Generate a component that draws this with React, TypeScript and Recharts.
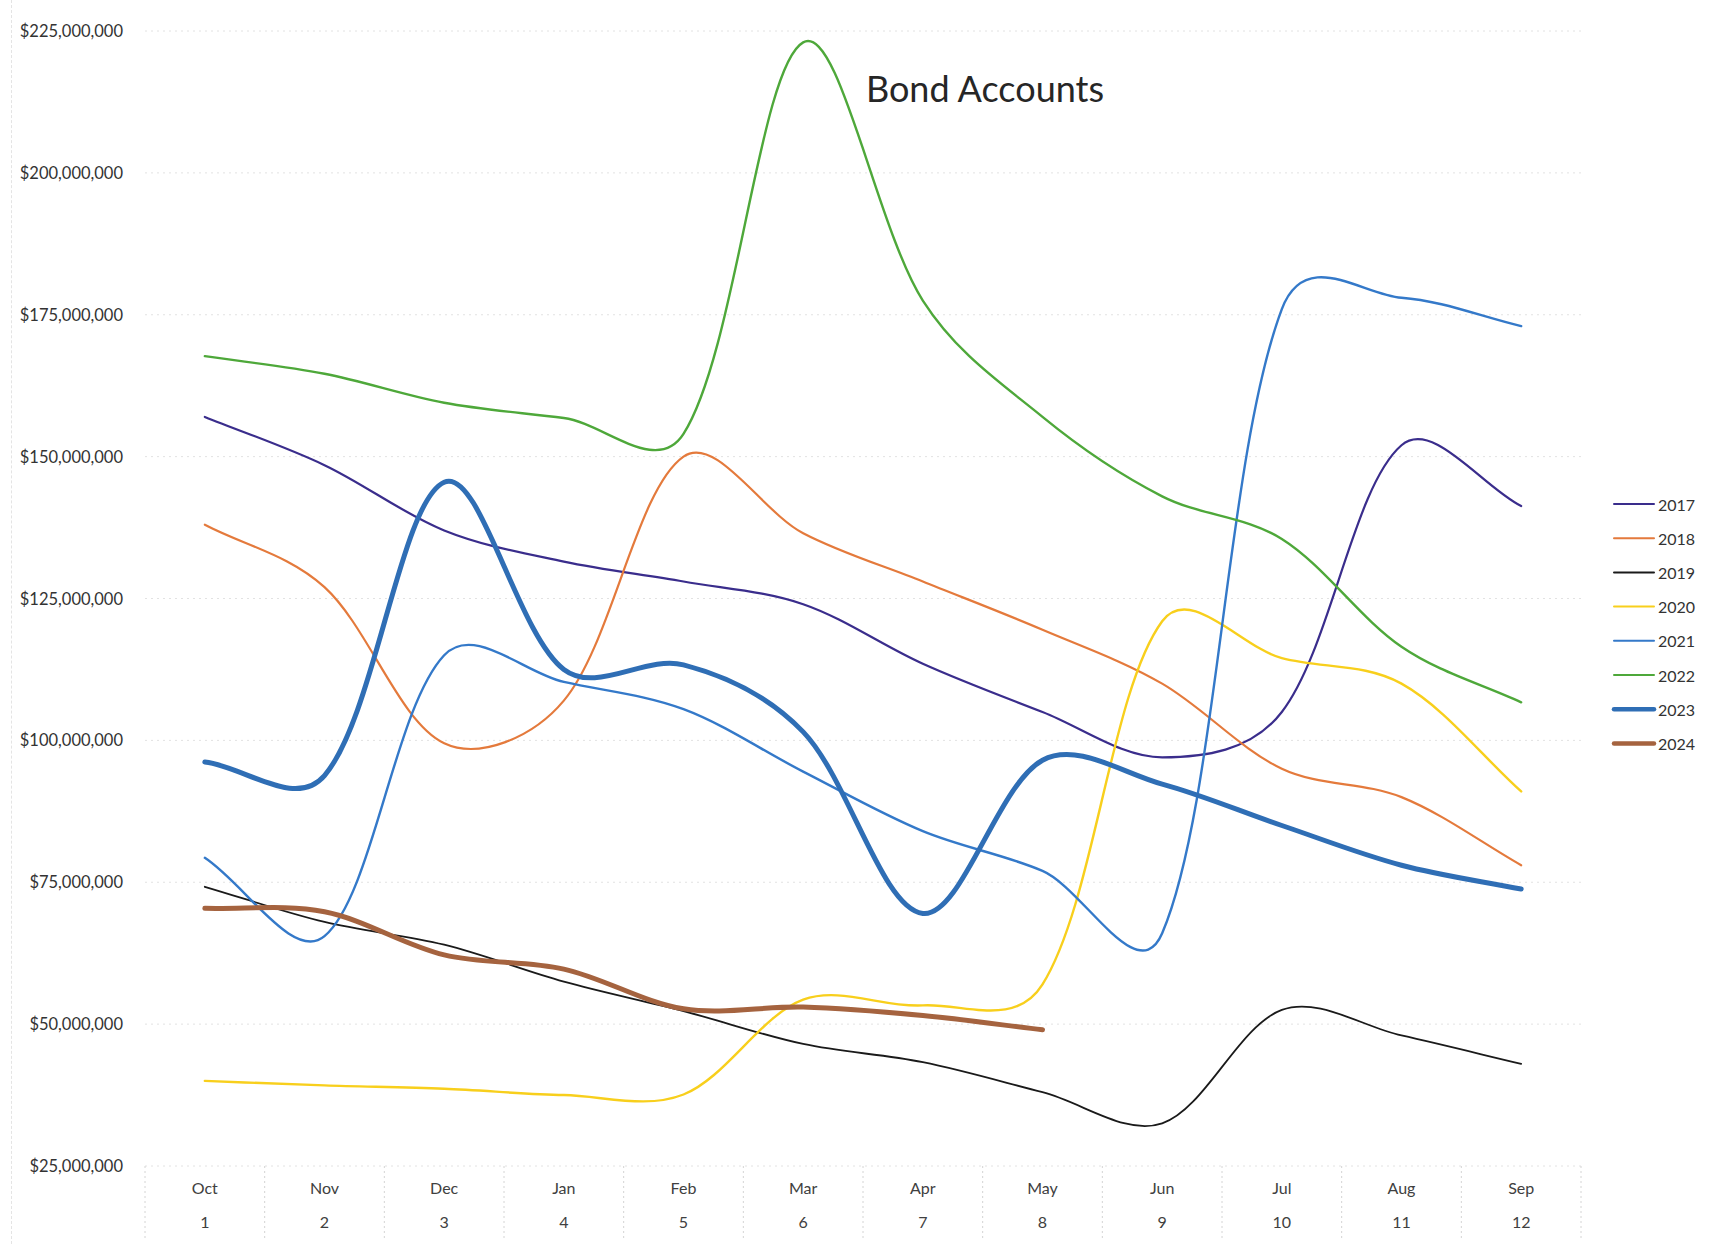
import React from 'react';
import { LineChart, Line, XAxis, YAxis, CartesianGrid, Legend } from 'recharts';

const months = ['Oct', 'Nov', 'Dec', 'Jan', 'Feb', 'Mar', 'Apr', 'May', 'Jun', 'Jul', 'Aug', 'Sep'];
const monthNumbers = ['1', '2', '3', '4', '5', '6', '7', '8', '9', '10', '11', '12'];
const years = ['2017', '2018', '2019', '2020', '2021', '2022', '2023', '2024'];

const v2017 = [157000000, 148500000, 137000000, 131500000, 128000000, 124000000, 113500000, 105000000, 97000000, 105000000, 152000000, 141300000];
const v2018 = [138000000, 127000000, 99500000, 107000000, 150000000, 136500000, 128000000, 119500000, 110000000, 95000000, 90000000, 78000000];
const v2019 = [74200000, 68000000, 64000000, 57500000, 52300000, 46500000, 43300000, 38000000, 32500000, 52500000, 48000000, 43000000];
const v2020 = [40000000, 39200000, 38600000, 37500000, 37600000, 54300000, 53300000, 57000000, 121000000, 114500000, 110000000, 91000000];
const v2021 = [79300000, 65500000, 115000000, 110300000, 105500000, 94500000, 84000000, 77000000, 66000000, 176000000, 178000000, 173000000];
const v2022 = [167700000, 164600000, 159500000, 156800000, 154000000, 223000000, 177500000, 157000000, 143000000, 135500000, 116500000, 106700000];
const v2023 = [96200000, 93800000, 145500000, 112500000, 113300000, 101500000, 69500000, 96500000, 92300000, 85000000, 78000000, 73800000];
const v2024 = [70400000, 69800000, 62200000, 59700000, 52700000, 53000000, 51500000, 49000000, null, null, null, null];

const yTicks = [25000000, 50000000, 75000000, 100000000, 125000000, 150000000, 175000000, 200000000, 225000000];

const seriesValues = [v2017, v2018, v2019, v2020, v2021, v2022, v2023, v2024];
const seriesColors = ['#3a2d8c', '#e47a3c', '#1a1a1a', '#f8cf1c', '#3479c9', '#4ea83a', '#2f6eb5', '#a5633f'];
const seriesWidths = [2.2, 2.2, 1.8, 2.4, 2.4, 2.4, 5, 5];

const data = months.map((m, i) => {
  const row: any = { month: m };
  years.forEach((y, k) => {
    row['y' + y] = seriesValues[k][i];
  });
  return row;
});

// Excel-like smoothing: cardinal bezier, tangents partly weighted by segment length
function excelSmooth(context: any) {
  let pts: number[][] = [];
  const f = 1 / 3;
  const w = 0.4;
  const weight = (near: number, far: number) => (near + far > 0 ? f * (w * 0.5 + (1 - w) * (near / (near + far))) : 0);
  return {
    areaStart() {},
    areaEnd() {},
    lineStart() {
      pts = [];
    },
    point(x: number, y: number) {
      pts.push([+x, +y]);
    },
    lineEnd() {
      const n = pts.length;
      if (n === 0) return;
      context.moveTo(pts[0][0], pts[0][1]);
      if (n === 1) {
        context.lineTo(pts[0][0], pts[0][1]);
        return;
      }
      for (let i = 0; i < n - 1; i++) {
        const first = i === 0;
        const last = i + 2 >= n;
        const p0 = pts[first ? i : i - 1];
        const p1 = pts[i];
        const p2 = pts[i + 1];
        const p3 = pts[last ? i + 1 : i + 2];
        const d01 = Math.hypot(p1[0] - p0[0], p1[1] - p0[1]);
        const d12 = Math.hypot(p2[0] - p1[0], p2[1] - p1[1]);
        const d23 = Math.hypot(p3[0] - p2[0], p3[1] - p2[1]);
        const a = first ? f : weight(d12, d01);
        const b = last ? f : weight(d12, d23);
        const c1x = p1[0] + (p2[0] - p0[0]) * a;
        const c1y = p1[1] + (p2[1] - p0[1]) * a;
        const c2x = p2[0] - (p3[0] - p1[0]) * b;
        const c2y = p2[1] - (p3[1] - p1[1]) * b;
        context.bezierCurveTo(c1x, c1y, c2x, c2y, p2[0], p2[1]);
      }
    },
  };
}

const WIDTH = 1718;
const HEIGHT = 1244;
const X_AXIS_H = 78;
const MARGIN = { top: 31, right: 137, bottom: 0, left: 0 };
const Y_AXIS_W = 145;
const BAND = (WIDTH - MARGIN.right - Y_AXIS_W) / months.length;
const FONT = 'Lato, "Open Sans", sans-serif';

const XTick = (props: any) => {
  const { x, y, payload } = props;
  const i = months.indexOf(payload.value);
  return (
    <g>
      <line x1={x - BAND / 2} x2={x - BAND / 2} y1={y} y2={y + 72} stroke="#d4d4d4" strokeDasharray="2 3" strokeWidth={1} />
      {i === months.length - 1 && (
        <line x1={x + BAND / 2} x2={x + BAND / 2} y1={y} y2={y + 72} stroke="#d4d4d4" strokeDasharray="2 3" strokeWidth={1} />
      )}
      <text x={x} y={y + 21} textAnchor="middle" dominantBaseline="central" fontFamily={FONT} fontSize={16} fill="#404040">
        {months[i]}
      </text>
      <text x={x} y={y + 55} textAnchor="middle" dominantBaseline="central" fontFamily={FONT} fontSize={16} fill="#404040">
        {monthNumbers[i]}
      </text>
    </g>
  );
};

const YTick = (props: any) => {
  const { x, y, payload } = props;
  return (
    <text x={x} y={y} textAnchor="end" dominantBaseline="central" fontFamily={FONT} fontSize={16.5} fill="#333">
      {'$' + Number(payload.value).toLocaleString('en-US')}
    </text>
  );
};

const LegendContent = () => (
  <svg width={112} height={272}>
    {years.map((yr, i) => {
      const cy = 14 + i * 34.2;
      return (
        <g key={yr}>
          <line x1={8} x2={48} y1={cy} y2={cy} stroke={seriesColors[i]} strokeWidth={seriesWidths[i] > 3 ? 4.5 : 2} strokeLinecap="round" />
          <text x={52} y={cy} dominantBaseline="central" fontFamily={FONT} fontSize={16} fill="#333">
            {yr}
          </text>
        </g>
      );
    })}
  </svg>
);

export default function App() {
  return (
    <div style={{ position: 'absolute', left: 0, top: 0, width: WIDTH, height: HEIGHT, background: '#fff', fontFamily: FONT }}>
      <div style={{ position: 'absolute', left: 11, top: 0, height: HEIGHT, borderLeft: '1px dashed #e4e4e4' }} />
      <div
        style={{
          position: 'absolute',
          left: 985,
          top: 88,
          transform: 'translate(-50%, -50%)',
          fontFamily: FONT,
          fontSize: 36,
          color: '#262626',
          whiteSpace: 'nowrap',
          zIndex: 2,
        }}
      >
        Bond Accounts
      </div>
      <LineChart width={WIDTH} height={HEIGHT} data={data} margin={MARGIN}>
        <CartesianGrid vertical={false} stroke="#e2e2e2" strokeDasharray="2 4" />
        <XAxis
          dataKey="month"
          axisLine={false}
          tickLine={false}
          tickSize={0}
          tickMargin={0}
          height={X_AXIS_H}
          interval={0}
          padding={{ left: BAND / 2, right: BAND / 2 }}
          tick={<XTick />}
        />
        <YAxis
          width={Y_AXIS_W}
          domain={[25000000, 225000000]}
          ticks={yTicks}
          interval={0}
          axisLine={false}
          tickLine={false}
          tickSize={0}
          tickMargin={22}
          tick={<YTick />}
        />
        <Legend
          layout="vertical"
          align="center"
          verticalAlign="middle"
          content={<LegendContent />}
          wrapperStyle={{ position: 'absolute', left: 1606, top: 490, width: 112, height: 272 }}
        />
        {years.map((yr, k) => (
          <Line
            key={yr}
            name={yr}
            dataKey={'y' + yr}
            type={excelSmooth as any}
            stroke={seriesColors[k]}
            strokeWidth={seriesWidths[k]}
            strokeLinecap="round"
            dot={false}
            activeDot={false}
            isAnimationActive={false}
          />
        ))}
      </LineChart>
    </div>
  );
}
